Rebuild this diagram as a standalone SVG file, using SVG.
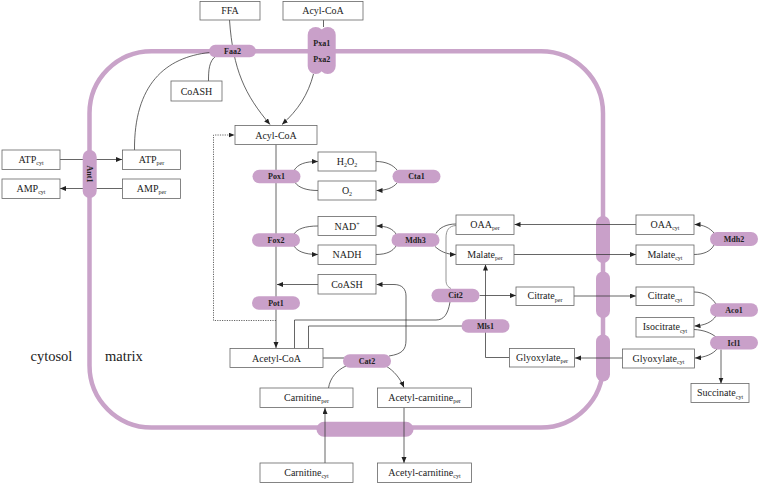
<svg xmlns="http://www.w3.org/2000/svg" width="760" height="484" viewBox="0 0 760 484">
<defs>
<marker id="ah" markerUnits="userSpaceOnUse" markerWidth="7" markerHeight="6" refX="6" refY="2.5" orient="auto">
<path d="M0,0 L6,2.5 L0,5 z" fill="#222"/>
</marker>
<style>
.mem{fill:none;stroke:#c9a3c9;stroke-width:4.5}
.tp{fill:#c9a0c9;stroke:none}
.box{fill:#fff;stroke:#666;stroke-width:0.8}
.bt{font-family:"Liberation Serif",serif;font-size:10px;fill:#222;text-anchor:middle}
.sub{font-size:6px}
.enz{fill:#c9a0c9;stroke:none}
.et{font-family:"Liberation Serif",serif;font-size:8px;font-weight:bold;fill:#222;text-anchor:middle}
.lbl{font-family:"Liberation Serif",serif;font-size:14.5px;fill:#222}
.c{fill:none;stroke:#333;stroke-width:0.75}
.a{marker-end:url(#ah)}
.g{fill:none;stroke:#888;stroke-width:0.9}
.gt{fill:none;stroke:#aaa;stroke-width:2}
.d{fill:none;stroke:#555;stroke-width:0.9;stroke-dasharray:1.2,1.2}
</style>
</defs>
<rect width="760" height="484" fill="#fff"/>
<g id="membrane">
<rect class="mem" x="89.5" y="51.3" width="513.5" height="376.2" rx="62" ry="62"/>
<rect class="tp" x="596" y="216" width="14" height="47" rx="7"/>
<rect class="tp" x="596" y="271.5" width="14" height="46.5" rx="7"/>
<rect class="tp" x="596" y="334.5" width="14" height="47" rx="7"/>
<rect class="tp" x="316.5" y="421.7" width="97" height="15" rx="7.5"/>
</g>
<text class="lbl" x="30.5" y="361">cytosol</text>
<text class="lbl" x="105" y="361">matrix</text>
<g id="connectors">
<path class="c a" d="M229.5,20 C233,70 245,95 270,124.5"/>
<path class="c" d="M323.5,20 L323.5,27"/>
<path class="c a" d="M313.5,74 C308,95 298,110 282,124.5"/>
<path class="c" d="M216,56 C209,61 208.5,70 208.5,81"/>
<path class="c" d="M134.5,150 C134,85 165,57 210,52.5"/>
<path class="c a" d="M60,159.5 L122,159.5"/>
<path class="c a" d="M122,188.5 L60,188.5"/>
<path class="c a" d="M276,144.5 L276,348"/>
<path class="c a" d="M294,170.5 C298,164 305,161.5 318,161.5"/>
<path class="c" d="M318,190.5 C307,190.5 299,188 295,182.5"/>
<path class="c" d="M376,161.5 C386,161.5 393,165 397,170"/>
<path class="c a" d="M397,183 C393,188 386,190.5 376.5,190.5"/>
<path class="c" d="M318,226 C305,226 297,229 294,234"/>
<path class="c a" d="M294,246 C297,251 304,254.5 318,254.5"/>
<path class="c" d="M376,254.5 C387,254.5 393,251 396,246"/>
<path class="c a" d="M396,234 C393,229 387,226 376.5,226"/>
<path class="c" d="M456,224 C446,224 439,228 436,233.5"/>
<path class="c a" d="M435,246.5 C440,251 446,254.5 456,254.5"/>
<path class="g" d="M456,225.5 C449,226 446,230 446,238 L446,280 C446,285 448,287 451,288.5"/>
<path class="c a" d="M479.5,295.5 L516,295.5"/>
<path class="c a" d="M574,296 L636,296"/>
<path class="c a" d="M636,224.5 L514.5,224.5"/>
<path class="c a" d="M514,254.5 L636,254.5"/>
<path class="c a" d="M622.5,358 L575,358"/>
<path class="c" d="M694,254.5 C704,254.5 711,251 714,245"/>
<path class="c a" d="M714,233 C710,228 703,224.5 694.5,224.5"/>
<path class="c" d="M694,292 C705,292 712,298 716,304"/>
<path class="c a" d="M716,316 C712,322 705,325.5 694.5,326"/>
<path class="c" d="M694,329.5 C704,330 711,333 716,337"/>
<path class="c a" d="M717,349 C713,354 705,357.5 695,358"/>
<path class="c a" d="M721,349.5 L721,383.5"/>
<path class="c a" d="M509.5,357.5 L485.5,357.5 L485.5,264.5"/>
<path class="c" d="M308.5,348.5 L308.5,326 L462,326"/>
<path class="c" d="M294.5,348.5 L294.5,320 L436,320 C444,320 448,314 450,302"/>
<path class="gt" d="M323,358 L344,358"/>
<path class="c a" d="M389,356 C402,354 406,350 406,340 L406,296 C406,289 402,284.5 394,284.5 L376.5,284.5"/>
<path class="c a" d="M318,284.5 L277,284.5"/>
<path class="c a" d="M386,366 C394,371 400,378 404,387.5"/>
<path class="c" d="M328.5,388 C330,378 337,370 346,366"/>
<path class="c a" d="M325,463 L325,408"/>
<path class="c a" d="M404,407.5 L404,463"/>
<path class="d a" d="M276,320.5 L213.5,320.5 L213.5,135 L234.5,135"/>
</g>
<g id="n-ffa"><rect class="box" x="200" y="1.5" width="60" height="18.5"/><text class="bt" x="230" y="14.3">FFA</text></g>
<g id="n-acylcoa-cyt"><rect class="box" x="283" y="1.5" width="80" height="18.5"/><text class="bt" x="323" y="14.3">Acyl-CoA</text></g>
<g id="n-coash-1"><rect class="box" x="171" y="81" width="51" height="20"/><text class="bt" x="196.5" y="94.5">CoASH</text></g>
<g id="n-acylcoa-per"><rect class="box" x="235" y="125.5" width="82" height="19"/><text class="bt" x="276" y="138.5">Acyl-CoA</text></g>
<g id="n-h2o2"><rect class="box" x="318" y="152" width="58" height="19"/><text class="bt" x="347" y="164.5">H<tspan class="sub" dy="2.5">2</tspan><tspan dy="-2.5">O</tspan><tspan class="sub" dy="2.5">2</tspan></text></g>
<g id="n-o2"><rect class="box" x="318" y="181" width="58" height="19"/><text class="bt" x="347" y="193.5">O<tspan class="sub" dy="2.5">2</tspan></text></g>
<g id="n-nad"><rect class="box" x="318" y="216.5" width="58" height="19"/><text class="bt" x="347" y="229.5">NAD<tspan class="sub" dy="-3.5">+</tspan></text></g>
<g id="n-nadh"><rect class="box" x="318" y="245" width="58" height="19.5"/><text class="bt" x="347" y="258.3">NADH</text></g>
<g id="n-coash-2"><rect class="box" x="318" y="274.5" width="58" height="19.5"/><text class="bt" x="347" y="287.8">CoASH</text></g>
<g id="n-acetylcoa"><rect class="box" x="230" y="348.5" width="93" height="19"/><text class="bt" x="276.5" y="361.5">Acetyl-CoA</text></g>
<g id="n-carn-per"><rect class="box" x="260" y="388" width="93" height="19.5"/><text class="bt" x="306.5" y="400.5">Carnitine<tspan class="sub" dy="2.5">per</tspan></text></g>
<g id="n-carn-cyt"><rect class="box" x="260" y="463" width="93" height="19.5"/><text class="bt" x="306.5" y="475.5">Carnitine<tspan class="sub" dy="2.5">cyt</tspan></text></g>
<g id="n-accarn-per"><rect class="box" x="377.5" y="388" width="94" height="19.5"/><text class="bt" x="424.5" y="400.5">Acetyl-carnitine<tspan class="sub" dy="2.5">per</tspan></text></g>
<g id="n-accarn-cyt"><rect class="box" x="377.5" y="463" width="94" height="19.5"/><text class="bt" x="424.5" y="475.5">Acetyl-carnitine<tspan class="sub" dy="2.5">cyt</tspan></text></g>
<g id="n-atp-cyt"><rect class="box" x="2" y="150" width="58" height="19.5"/><text class="bt" x="31" y="162.5">ATP<tspan class="sub" dy="2.5">cyt</tspan></text></g>
<g id="n-amp-cyt"><rect class="box" x="2" y="179" width="58" height="19.5"/><text class="bt" x="31" y="191.5">AMP<tspan class="sub" dy="2.5">cyt</tspan></text></g>
<g id="n-atp-per"><rect class="box" x="122.5" y="150" width="58" height="19.5"/><text class="bt" x="151.5" y="162.5">ATP<tspan class="sub" dy="2.5">per</tspan></text></g>
<g id="n-amp-per"><rect class="box" x="122.5" y="179" width="58" height="19.5"/><text class="bt" x="151.5" y="191.5">AMP<tspan class="sub" dy="2.5">per</tspan></text></g>
<g id="n-oaa-per"><rect class="box" x="456" y="215" width="58" height="19.5"/><text class="bt" x="485" y="227.5">OAA<tspan class="sub" dy="2.5">per</tspan></text></g>
<g id="n-malate-per"><rect class="box" x="456" y="245" width="58" height="19.5"/><text class="bt" x="485" y="257.5">Malate<tspan class="sub" dy="2.5">per</tspan></text></g>
<g id="n-citrate-per"><rect class="box" x="516" y="287" width="58" height="18.5"/><text class="bt" x="545" y="299">Citrate<tspan class="sub" dy="2.5">per</tspan></text></g>
<g id="n-glyox-per"><rect class="box" x="509.5" y="348.5" width="65" height="18.5"/><text class="bt" x="542" y="360.5">Glyoxylate<tspan class="sub" dy="2.5">per</tspan></text></g>
<g id="n-oaa-cyt"><rect class="box" x="636" y="215" width="58" height="19.5"/><text class="bt" x="665" y="227.5">OAA<tspan class="sub" dy="2.5">cyt</tspan></text></g>
<g id="n-malate-cyt"><rect class="box" x="636" y="245" width="58" height="19.5"/><text class="bt" x="665" y="257.5">Malate<tspan class="sub" dy="2.5">cyt</tspan></text></g>
<g id="n-citrate-cyt"><rect class="box" x="636" y="287" width="58" height="18.5"/><text class="bt" x="665" y="299">Citrate<tspan class="sub" dy="2.5">cyt</tspan></text></g>
<g id="n-isocitrate-cyt"><rect class="box" x="636" y="317.5" width="58" height="19.5"/><text class="bt" x="665" y="330">Isocitrate<tspan class="sub" dy="2.5">cyt</tspan></text></g>
<g id="n-glyox-cyt"><rect class="box" x="622.5" y="349" width="72" height="19"/><text class="bt" x="658.5" y="361.5">Glyoxylate<tspan class="sub" dy="2.5">cyt</tspan></text></g>
<g id="n-succinate-cyt"><rect class="box" x="691" y="383.5" width="58" height="19"/><text class="bt" x="720" y="396">Succinate<tspan class="sub" dy="2.5">cyt</tspan></text></g>
<g id="e-faa2"><rect class="enz" x="209" y="44.8" width="47" height="12.5" rx="6.25"/><text class="et" x="232.5" y="53.8">Faa2</text></g>
<g id="e-pxa"><rect class="enz" x="307.7" y="27" width="16" height="47" rx="8"/><rect class="enz" x="319.7" y="27" width="16" height="47" rx="8"/><text class="et" x="321.7" y="45.5">Pxa1</text><text class="et" x="321.7" y="61.5">Pxa2</text></g>
<g id="e-ant1"><rect class="enz" x="82.7" y="150" width="14" height="48" rx="7"/><text class="et" transform="translate(89.7,174) rotate(90)" y="2.8">Ant1</text></g>
<g id="e-pox1"><rect class="enz" x="252.5" y="169.7" width="48" height="13.5" rx="6.75"/><text class="et" x="276.5" y="179.3">Pox1</text></g>
<g id="e-cta1"><rect class="enz" x="392.5" y="169.7" width="48" height="13.5" rx="6.75"/><text class="et" x="416.5" y="179.3">Cta1</text></g>
<g id="e-fox2"><rect class="enz" x="252" y="233.2" width="48" height="13.5" rx="6.75"/><text class="et" x="276" y="242.8">Fox2</text></g>
<g id="e-mdh3"><rect class="enz" x="391.5" y="233.2" width="48" height="13.5" rx="6.75"/><text class="et" x="415.5" y="242.8">Mdh3</text></g>
<g id="e-pot1"><rect class="enz" x="252" y="296.2" width="48" height="13.5" rx="6.75"/><text class="et" x="276" y="305.8">Pot1</text></g>
<g id="e-cit2"><rect class="enz" x="431.5" y="288.7" width="48" height="13.5" rx="6.75"/><text class="et" x="455.5" y="298.3">Cit2</text></g>
<g id="e-mls1"><rect class="enz" x="461.5" y="319.2" width="48" height="13.5" rx="6.75"/><text class="et" x="485.5" y="328.8">Mls1</text></g>
<g id="e-cat2"><rect class="enz" x="343" y="354.2" width="48" height="13.5" rx="6.75"/><text class="et" x="367" y="363.8">Cat2</text></g>
<g id="e-mdh2"><rect class="enz" x="710" y="232" width="48" height="14" rx="7"/><text class="et" x="734" y="241.8">Mdh2</text></g>
<g id="e-aco1"><rect class="enz" x="710" y="303.2" width="48" height="13.5" rx="6.75"/><text class="et" x="734" y="312.8">Aco1</text></g>
<g id="e-icl1"><rect class="enz" x="710" y="336" width="48" height="13.5" rx="6.75"/><text class="et" x="734" y="345.6">Icl1</text></g>
</svg>
